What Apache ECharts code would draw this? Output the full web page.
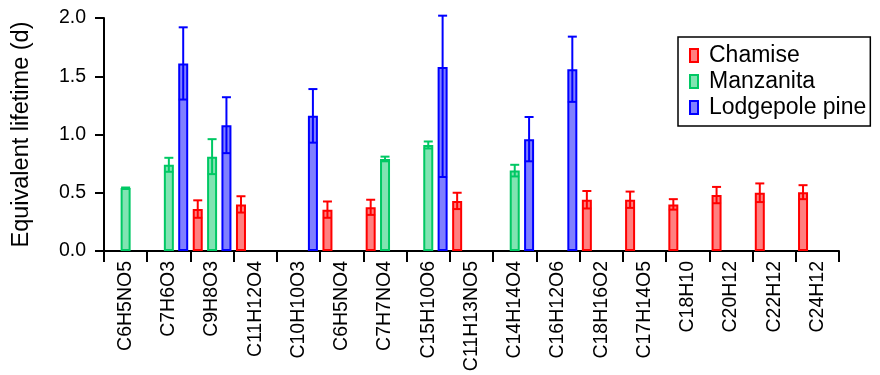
<!DOCTYPE html>
<html>
<head>
<meta charset="utf-8">
<script src="https://cdn.jsdelivr.net/npm/echarts@6/dist/echarts.min.js"></script>
<style>
  html, body { margin: 0; padding: 0; background: #fff; }
  #chart { width: 880px; height: 375px; }
</style>
</head>
<body>
<div id="chart"></div>
<script>
  // categories and values
  const categories = [
    'C6H5NO5', 'C7H6O3', 'C9H8O3', 'C11H12O4', 'C10H10O3', 'C6H5NO4',
    'C7H7NO4', 'C15H10O6', 'C11H13NO5', 'C14H14O4', 'C16H12O6', 'C18H16O2',
    'C17H14O5', 'C18H10', 'C20H12', 'C22H12', 'C24H12'
  ];

  const chamise = [null, null, 0.36, 0.40, null, 0.355, 0.375, null, 0.43, null, null, 0.44, 0.44, 0.40, 0.48, 0.50, 0.505];
  const chamiseErr = [null, null, 0.075, 0.07, null, 0.07, 0.065, null, 0.07, null, null, 0.075, 0.07, 0.045, 0.07, 0.08, 0.06];

  const manzanita = [0.54, 0.74, 0.81, null, null, null, 0.79, 0.91, null, 0.69, null, null, null, null, null, null, null];
  const manzanitaErr = [0.005, 0.06, 0.15, null, null, null, 0.02, 0.03, null, 0.05, null, null, null, null, null, null, null];

  const lodgepole = [null, 1.61, 1.08, null, 1.16, null, null, 1.58, null, 0.96, 1.56, null, null, null, null, null, null];
  const lodgepoleErr = [null, 0.31, 0.24, null, 0.23, null, null, 0.945, null, 0.19, 0.28, null, null, null, null, null, null];

  const yTicks = [0, 0.5, 1.0, 1.5, 2.0];

  const FONT = 'Liberation Sans, Arial, sans-serif';
  const BAR_W = 10;
  const BAR_GAP = 0.435;

  const plants = [
    { name: 'Chamise', values: chamise, errs: chamiseErr, fill: '#ff8080', line: '#ff0000' },
    { name: 'Manzanita', values: manzanita, errs: manzanitaErr, fill: '#80e4b2', line: '#00c864' },
    { name: 'Lodgepole pine', values: lodgepole, errs: lodgepoleErr, fill: '#8080ff', line: '#0000ff' }
  ];

  const chart = echarts.init(document.getElementById('chart'), null, { renderer: 'canvas' });

  const barSeries = plants.map(p => ({
    name: p.name,
    type: 'bar',
    data: p.values,
    barWidth: BAR_W,
    barGap: (BAR_GAP * 100) + '%',
    itemStyle: { color: p.fill, borderColor: p.line, borderWidth: 2 },
    z: 2
  }));

  // error bars drawn on top of the bars, shifted to each series' slot
  const errSeries = plants.map((p, si) => ({
    name: p.name + ' err',
    type: 'custom',
    z: 3,
    encode: { x: 0, y: 1 },
    data: p.values
      .map((v, i) => (v == null ? null : [i, v, p.errs[i]]))
      .filter(d => d),
    renderItem: (params, api) => {
      const i = api.value(0);
      const v = api.value(1);
      const e = api.value(2);
      const step = BAR_W * (1 + BAR_GAP);
      const x = api.coord([i, v])[0] + (si - 1) * step;
      const yHi = api.coord([i, Math.min(v + e, 2.02)])[1];
      const yLo = api.coord([i, v - e])[1];
      const cap = 4.5;
      const style = { stroke: p.line, lineWidth: 2, fill: null };
      return {
        type: 'group',
        children: [
          { type: 'line', shape: { x1: x, y1: yHi, x2: x, y2: yLo }, style },
          { type: 'line', shape: { x1: x - cap, y1: yHi, x2: x + cap, y2: yHi }, style },
          { type: 'line', shape: { x1: x - cap, y1: yLo, x2: x + cap, y2: yLo }, style }
        ]
      };
    }
  }));

  chart.setOption({
    animation: false,
    backgroundColor: '#fff',
    textStyle: { fontFamily: FONT },
    grid: { left: 104, right: 41, top: 18, bottom: 124, containLabel: false },
    legend: {
      data: plants.map(p => p.name),
      orient: 'vertical',
      left: 678,
      top: 37,
      icon: 'rect',
      itemWidth: 8,
      itemHeight: 13,
      itemGap: 3,
      padding: [7, 4, 7, 11],
      borderColor: '#000',
      borderWidth: 1.5,
      backgroundColor: '#fff',
      textStyle: { fontFamily: FONT, fontSize: 23, color: '#000', lineHeight: 23, padding: [0, 0, 0, 6] }
    },
    xAxis: {
      type: 'category',
      data: categories,
      axisLine: { lineStyle: { color: '#000', width: 2 } },
      axisTick: { show: true, length: 11, lineStyle: { color: '#000', width: 2 } },
      axisLabel: {
        rotate: 90,
        interval: 0,
        margin: 10,
        fontFamily: FONT,
        fontSize: 19.5,
        color: '#000'
      }
    },
    yAxis: {
      type: 'value',
      min: yTicks[0],
      max: yTicks[yTicks.length - 1],
      interval: 0.5,
      name: 'Equivalent lifetime (d)',
      nameLocation: 'middle',
      nameRotate: 90,
      nameGap: 70,
      nameTextStyle: { fontFamily: FONT, fontSize: 23.5, color: '#000' },
      axisLine: { show: true, lineStyle: { color: '#000', width: 2 } },
      axisTick: { show: true, length: 9, lineStyle: { color: '#000', width: 2 } },
      axisLabel: {
        margin: 18,
        fontFamily: FONT,
        fontSize: 19.5,
        color: '#000',
        formatter: v => v.toFixed(1)
      },
      splitLine: { show: false }
    },
    series: [...barSeries, ...errSeries]
  });
</script>
</body>
</html>
